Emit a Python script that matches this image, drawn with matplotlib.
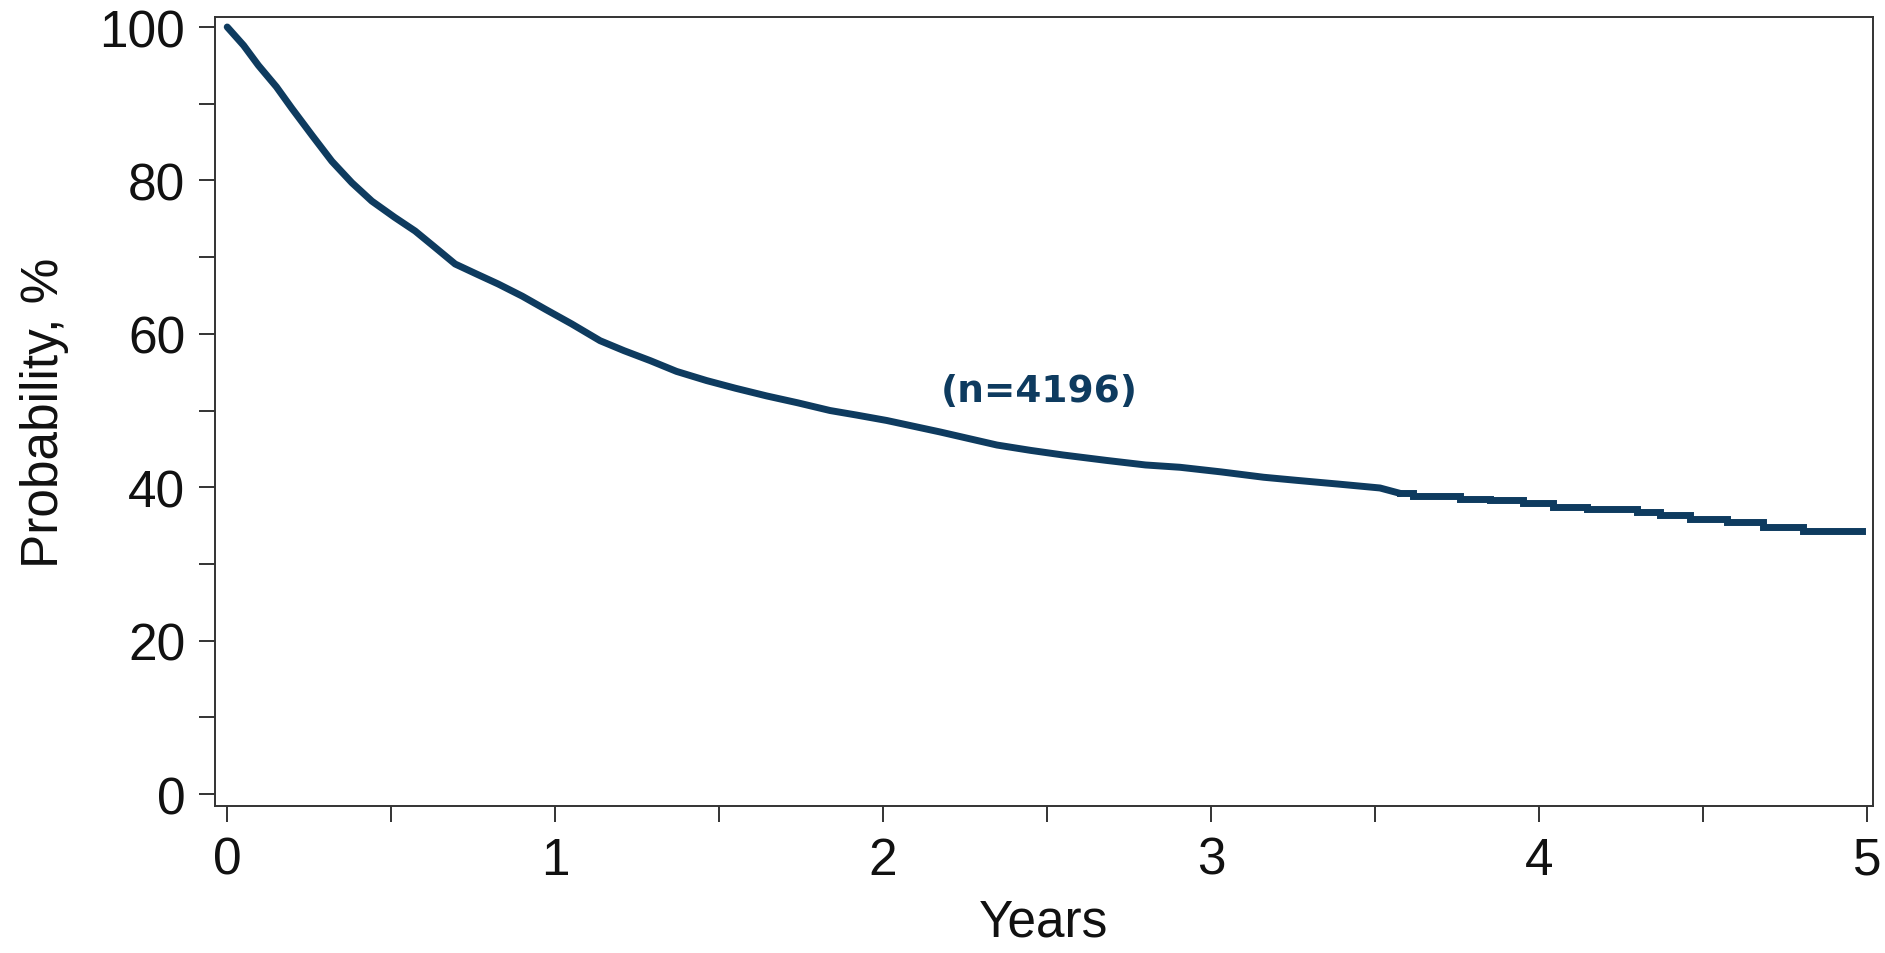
import numpy as np
import matplotlib
matplotlib.use("Agg")
import matplotlib.pyplot as plt
from matplotlib.ticker import MultipleLocator

# Kaplan-Meier style curve (years, %)
# early part: many events, looks smooth
years_smooth = [0, 0.05, 0.095, 0.15, 0.197, 0.26, 0.319, 0.38, 0.441, 0.51,
                0.573, 0.63, 0.695, 0.76, 0.826, 0.90, 0.97, 1.05, 1.137,
                1.21, 1.29, 1.37, 1.462, 1.55, 1.645, 1.74, 1.838, 1.92,
                2.011, 2.174, 2.347, 2.45, 2.549, 2.68, 2.80, 2.905, 3.03,
                3.16, 3.26, 3.39, 3.515, 3.576]
prob_smooth = [100, 97.6, 95.0, 92.2, 89.4, 85.8, 82.5, 79.7, 77.3, 75.2,
               73.4, 71.4, 69.1, 67.8, 66.5, 64.9, 63.2, 61.3, 59.1,
               57.8, 56.5, 55.1, 53.9, 52.9, 51.9, 51.0, 50.0, 49.4,
               48.7, 47.2, 45.5, 44.8, 44.2, 43.5, 42.9, 42.6, 42.0,
               41.3, 40.9, 40.4, 39.9, 39.2]
# tail: visible steps
years_steps = [3.576, 3.617, 3.759, 3.851, 3.952, 4.044, 4.145, 4.298,
               4.369, 4.460, 4.572, 4.684, 4.806, 4.984]
prob_steps = [39.2, 38.8, 38.5, 38.3, 37.95, 37.4, 37.1, 36.8,
              36.4, 35.8, 35.4, 34.8, 34.3, 34.3]

n_label = "(n=4196)"
line_col = "#0e3b5f"

plt.rcParams['font.family'] = ['Liberation Sans', 'DejaVu Sans']

fig = plt.figure(figsize=(18.85, 9.54), dpi=100)
ax = fig.add_axes([0.1141, 0.1541, 0.8795, 0.827])

ax.plot(years_smooth, prob_smooth, color=line_col, lw=5,
        solid_capstyle='round', solid_joinstyle='round')
ax.plot(years_steps, prob_steps, color=line_col, lw=5,
        drawstyle='steps-post', solid_joinstyle='miter')

ax.text(2.476, 51.3, n_label, color=line_col, fontsize=27,
        fontweight='bold', ha='center', va='baseline', family='DejaVu Sans')

ax.set_xlim(-0.037, 5.018)
ax.set_ylim(-1.56, 101.3)
ax.xaxis.set_major_locator(MultipleLocator(1))
ax.xaxis.set_minor_locator(MultipleLocator(0.5))
ax.yaxis.set_major_locator(MultipleLocator(20))
ax.yaxis.set_minor_locator(MultipleLocator(10))

for s in ax.spines.values():
    s.set_linewidth(1.4)
    s.set_color('#333333')

ax.tick_params(which='both', direction='out', length=11.5, width=1.4,
               color='#333333')
ax.tick_params(which='major', labelsize=37, pad=10, labelcolor='#111111')

ax.set_xlabel("Years", fontsize=37, color='#111111', labelpad=9)
ax.set_ylabel("Probability, %", fontsize=37, color='#111111', labelpad=22)

fig.savefig("out.png", dpi=100, facecolor='white')
